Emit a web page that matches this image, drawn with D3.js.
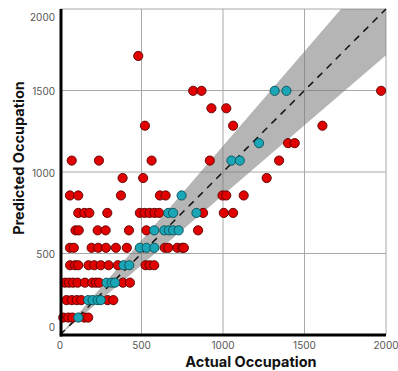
<!DOCTYPE html>
<html>
<head>
<meta charset="utf-8">
<script src="https://cdn.jsdelivr.net/npm/d3@7"></script>
<style>
  body { margin: 0; background: #fff; }
  svg { display: block; font-family: Inter, "Open Sans", sans-serif; }
</style>
</head>
<body>
<svg id="chart" width="398" height="371"></svg>
<script>
// [actual, predicted] pairs
const redPoints = [
  [20,107],[51,107],[76,107],[149,107],[173,107],
  [40,214],[72,214],[103,214],[130,214],[292,214],[327,214],
  [30,321],[55,321],[80,321],[108,321],[153,321],[198,321],[220,321],[240,321],[386,321],[429,321],
  [62,428],[92,428],[112,428],[175,428],[210,428],[250,428],[298,428],[355,428],[525,428],[550,428],[578,428],
  [61,535],[85,535],[194,535],[235,535],[282,535],[343,535],[410,535],[643,535],[664,535],[720,535],[750,535],[760,535],
  [95,642],[115,642],[231,642],[280,642],[423,642],[530,642],[847,642],
  [112,749],[150,749],[180,749],[290,749],[490,749],[520,749],[550,749],[580,749],[608,749],[878,749],[1005,749],[1062,749],
  [61,856],[112,856],[374,856],[613,856],[648,856],[997,856],[1020,856],[1127,856],
  [384,963],[510,963],[1268,963],
  [72,1070],[239,1070],[562,1070],[919,1070],[1344,1070],
  [1399,1177],[1440,1177],
  [521,1284],[1062,1284],[1610,1284],
  [929,1391],[1020,1391],
  [817,1498],[868,1498],[1970,1498],
  [480,1712]
];
const tealPoints = [
  [112,107],
  [173,214],[200,214],[231,214],[250,214],
  [286,321],[317,321],[337,321],
  [390,428],[425,428],
  [490,535],[531,535],[578,535],
  [578,642],[640,642],[668,642],[694,642],[728,642],
  [664,749],[694,749],[837,749],
  [746,856],
  [1052,1070],[1103,1070],
  [1221,1177],
  [1317,1498],[1389,1498]
];
const tickValues = [0, 500, 1000, 1500, 2000];
const bandUpper = [[0,0],[2000,2320]];
const bandLower = [[0,0],[2000,1716]];

const svg = d3.select("#chart");
const mLeft = 60, mRight = 386, mTop = 9, mBottom = 335;

const x = d3.scaleLinear().domain([0, 2000]).range([mLeft, mRight]);
const y = d3.scaleLinear().domain([0, 2000]).range([mBottom, mTop]);

const plot = svg.append("g");
plot.append("clipPath").attr("id", "clip")
  .append("rect").attr("x", mLeft).attr("y", mTop)
  .attr("width", mRight - mLeft).attr("height", mBottom - mTop);

// grid
plot.selectAll("line.gx").data(tickValues.slice(1)).enter().append("line")
  .attr("x1", d => x(d)).attr("x2", d => x(d))
  .attr("y1", mTop).attr("y2", mBottom)
  .attr("stroke", "#a8a8a8").attr("stroke-width", 1);
plot.selectAll("line.gy").data(tickValues.slice(1)).enter().append("line")
  .attr("y1", d => y(d)).attr("y2", d => y(d))
  .attr("x1", mLeft).attr("x2", mRight)
  .attr("stroke", "#a8a8a8").attr("stroke-width", 1);

// confidence band
const band = bandUpper.concat(bandLower.slice().reverse());
plot.append("path")
  .attr("clip-path", "url(#clip)")
  .attr("d", d3.line().x(d => x(d[0])).y(d => y(d[1]))(band) + "Z")
  .attr("fill", "rgba(120,120,120,0.55)");

// identity line
plot.append("line")
  .attr("x1", x(0)).attr("y1", y(0)).attr("x2", x(2000)).attr("y2", y(2000))
  .attr("stroke", "#111").attr("stroke-width", 1.5)
  .attr("stroke-dasharray", "7,6");

// points
const pts = redPoints.map(p => ({p, c: "red"})).concat(tealPoints.map(p => ({p, c: "teal"})));
plot.selectAll("circle.pt").data(pts).enter().append("circle")
  .attr("cx", d => x(d.p[0])).attr("cy", d => y(d.p[1]))
  .attr("r", 4.6)
  .attr("fill", d => d.c == "red" ? "#e00000" : "#1aa6b7")
  .attr("stroke", d => d.c == "red" ? "#5a0000" : "#0b4d55")
  .attr("stroke-width", 0.9);

// axes lines
svg.append("line").attr("x1", mLeft + 1).attr("x2", mLeft + 1).attr("y1", mTop).attr("y2", mBottom + 1.5)
  .attr("stroke", "#000").attr("stroke-width", 3);
svg.append("line").attr("x1", mLeft).attr("x2", mRight).attr("y1", mBottom).attr("y2", mBottom)
  .attr("stroke", "#000").attr("stroke-width", 3);

// tick labels
svg.selectAll("text.yt").data(tickValues).enter().append("text")
  .attr("x", 55)
  .attr("y", d => d == 0 ? y(d) - 8 : d == 2000 ? y(d) + 8 : y(d) + 1)
  .attr("dy", "0.35em")
  .attr("text-anchor", "end")
  .attr("font-size", 10).attr("fill", "#555")
  .text(d => d);
svg.selectAll("text.xt").data(tickValues).enter().append("text")
  .attr("x", d => x(d))
  .attr("y", 345).attr("dy", "0.35em")
  .attr("text-anchor", "middle")
  .attr("font-size", 10).attr("fill", "#555")
  .text(d => d);

// axis titles
svg.append("text")
  .attr("x", 251).attr("y", 367)
  .attr("text-anchor", "middle")
  .attr("font-size", 14.5).attr("font-weight", 700).attr("fill", "#111")
  .text("Actual Occupation");
svg.append("text")
  .attr("transform", "translate(24,158) rotate(-90)")
  .attr("text-anchor", "middle")
  .attr("font-size", 14.5).attr("font-weight", 700).attr("fill", "#111")
  .text("Predicted Occupation");
</script>
</body>
</html>
